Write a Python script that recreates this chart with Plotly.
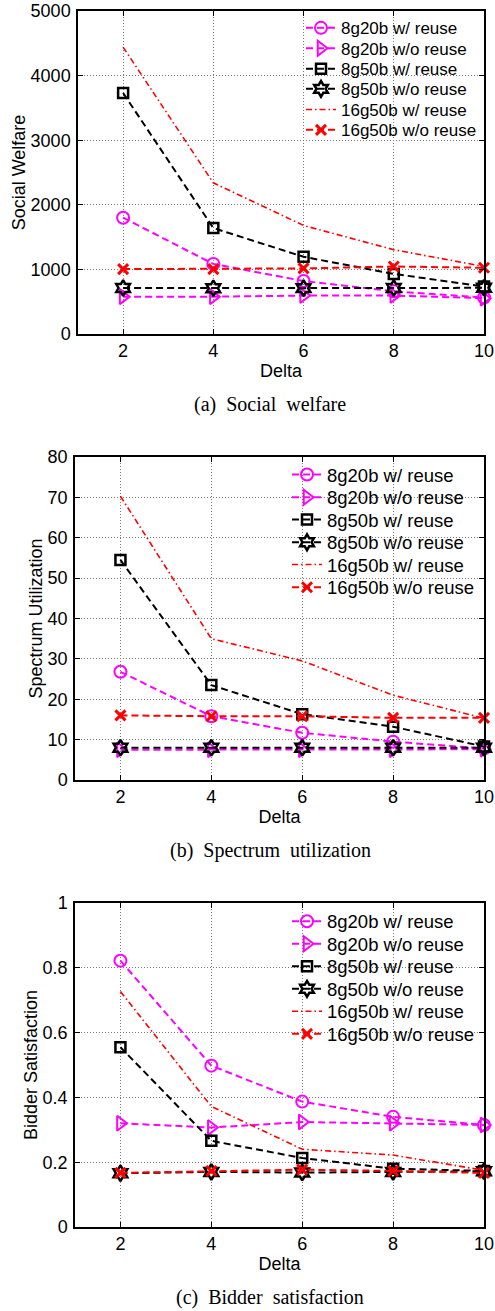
import plotly.graph_objects as go

delta = [2, 4, 6, 8, 10]
series_names = ["8g20b w/ reuse", "8g20b w/o reuse", "8g50b w/ reuse",
                "8g50b w/o reuse", "16g50b w/ reuse", "16g50b w/o reuse"]

# (a) Social welfare
sw_8g20b_reuse = [1800, 1085, 820, 660, 565]
sw_8g20b_noreuse = [578, 578, 595, 595, 555]
sw_8g50b_reuse = [3730, 1640, 1195, 930, 735]
sw_8g50b_noreuse = [712, 708, 710, 712, 715]
sw_16g50b_reuse = [4440, 2340, 1680, 1305, 1045]
sw_16g50b_noreuse = [1005, 1005, 1015, 1045, 1025]

# (b) Spectrum utilization
su_8g20b_reuse = [26.8, 15.8, 11.7, 9.5, 7.8]
su_8g20b_noreuse = [7.5, 7.5, 7.5, 7.5, 7.6]
su_8g50b_reuse = [54.5, 23.5, 16.3, 13.2, 8.3]
su_8g50b_noreuse = [8.0, 8.0, 8.0, 8.0, 8.0]
su_16g50b_reuse = [70.3, 35.0, 29.5, 21.0, 15.3]
su_16g50b_noreuse = [16.0, 15.8, 15.8, 15.4, 15.4]

# (c) Bidder satisfaction
bs_8g20b_reuse = [0.822, 0.498, 0.387, 0.340, 0.315]
bs_8g20b_noreuse = [0.320, 0.307, 0.324, 0.320, 0.315]
bs_8g50b_reuse = [0.555, 0.266, 0.213, 0.180, 0.173]
bs_8g50b_noreuse = [0.166, 0.170, 0.168, 0.170, 0.172]
bs_16g50b_reuse = [0.727, 0.372, 0.240, 0.222, 0.175]
bs_16g50b_noreuse = [0.167, 0.173, 0.177, 0.173, 0.167]

y_titles = ["Social Welfare", "Spectrum Utilization", "Bidder Satisfaction"]
captions = ["(a)&nbsp; Social&nbsp; welfare", "(b)&nbsp; Spectrum&nbsp; utilization",
            "(c)&nbsp; Bidder&nbsp; satisfaction"]
y_ranges = [[0, 5000], [0, 80], [0, 1]]
y_ticks = [[0, 1000, 2000, 3000, 4000, 5000],
           [0, 10, 20, 30, 40, 50, 60, 70, 80],
           [0, 0.2, 0.4, 0.6, 0.8, 1]]
panels = [
    [sw_8g20b_reuse, sw_8g20b_noreuse, sw_8g50b_reuse, sw_8g50b_noreuse, sw_16g50b_reuse, sw_16g50b_noreuse],
    [su_8g20b_reuse, su_8g20b_noreuse, su_8g50b_reuse, su_8g50b_noreuse, su_16g50b_reuse, su_16g50b_noreuse],
    [bs_8g20b_reuse, bs_8g20b_noreuse, bs_8g50b_reuse, bs_8g50b_noreuse, bs_16g50b_reuse, bs_16g50b_noreuse],
]

W, H = 495, 1311
# pixel geometry of each panel (left, right, top, bottom)
boxes = [(78, 484, 11, 334), (75, 484, 457, 780), (75, 484, 903, 1227)]
caption_y = [404, 850, 1297]
caption_x = 270
legend_x = [301, 287, 287]
legend_rows = [[28.3, 48.7, 69.3, 89.3, 110, 130.3],
               [475, 497.7, 520, 542.7, 565, 587.7],
               [921.7, 944.3, 966.7, 989.3, 1011.7, 1034.3]]
legend_font = [17, 18.5, 18.5]


def px(v):
    return v / W


def py(v):
    return 1 - v / H


DASH = "7px,4px"
DASHDOT = "6px,3px,1.5px,3px"
styles = [
    dict(line=dict(color="#ff00ff", width=2, dash=DASH),
         marker=dict(symbol="circle-open", size=12, color="#ff00ff", line=dict(width=2))),
    dict(line=dict(color="#ff00ff", width=2, dash=DASH),
         marker=dict(symbol="triangle-right-open", size=13, color="#ff00ff", line=dict(width=2))),
    dict(line=dict(color="black", width=2, dash=DASH),
         marker=dict(symbol="square-open", size=10, color="black", line=dict(width=2.5))),
    dict(line=dict(color="black", width=2, dash=DASH),
         marker=dict(symbol="hexagram-open", size=12, color="black", line=dict(width=2.5))),
    dict(line=dict(color="#ff0000", width=1.6, dash=DASHDOT), marker=dict(size=1, opacity=0)),
    dict(line=dict(color="#ff0000", width=2, dash=DASH),
         marker=dict(symbol="x-thin-open", size=10, color="#ff0000", line=dict(width=3, color="#ff0000"))),
]

fig = go.Figure()
layout = dict(width=W, height=H, margin=dict(l=0, r=0, t=0, b=0, pad=0, autoexpand=False),
              template="none",
              paper_bgcolor="white", plot_bgcolor="white",
              font=dict(family="Liberation Sans, Arial, sans-serif", size=18, color="black"),
              annotations=[])

leg_idx = 0
for p in range(3):
    l, r, t, b = boxes[p]
    xa = "xaxis" if p == 0 else f"xaxis{p+1}"
    ya = "yaxis" if p == 0 else f"yaxis{p+1}"
    xref = "x" if p == 0 else f"x{p+1}"
    yref = "y" if p == 0 else f"y{p+1}"
    common = dict(showline=True, linecolor="black", linewidth=1.5, mirror="ticks",
                  ticks="inside", ticklen=5, tickwidth=1, tickcolor="black",
                  showgrid=True, gridcolor="#7a7a7a", gridwidth=1, griddash="1px,2px",
                  zeroline=False, automargin=False, ticklabeloverflow="allow",
                  tickfont=dict(size=18))
    layout[xa] = dict(common, domain=[px(l), px(r)], range=[1, 10], tickvals=delta,
                      anchor=yref, title=dict(text="Delta", standoff=0, font=dict(size=18)))
    layout[ya] = dict(common, domain=[py(b), py(t)], range=y_ranges[p],
                      tickvals=y_ticks[p], anchor=xref, ticklabelstandoff=2,
                      title=dict(text=y_titles[p], standoff=0, font=dict(size=18)))
    for i, vals in enumerate(panels[p]):
        leg_idx += 1
        lname = "legend" if leg_idx == 1 else f"legend{leg_idx}"
        fig.add_trace(go.Scatter(x=delta, y=vals, name=series_names[i],
                                 mode="lines" if i == 4 else "lines+markers",
                                 xaxis=xref, yaxis=yref, cliponaxis=False,
                                 legend=lname, showlegend=True, **styles[i]))
        layout[lname] = dict(x=px(legend_x[p]), xanchor="left",
                             y=py(legend_rows[p][i]), yanchor="middle",
                             bgcolor="rgba(0,0,0,0)", borderwidth=0,
                             font=dict(size=legend_font[p]), itemwidth=30)
    layout["annotations"].append(dict(
        text=captions[p], xref="paper", yref="paper", x=px(caption_x), y=py(caption_y[p]),
        xanchor="center", yanchor="middle", showarrow=False,
        font=dict(family="Liberation Serif, Times New Roman, serif", size=20)))

fig.update_layout(**layout)
fig.write_html("out.html", config={"displayModeBar": False},
               post_script="document.body.style.margin='0';document.body.style.overflow='hidden';")
